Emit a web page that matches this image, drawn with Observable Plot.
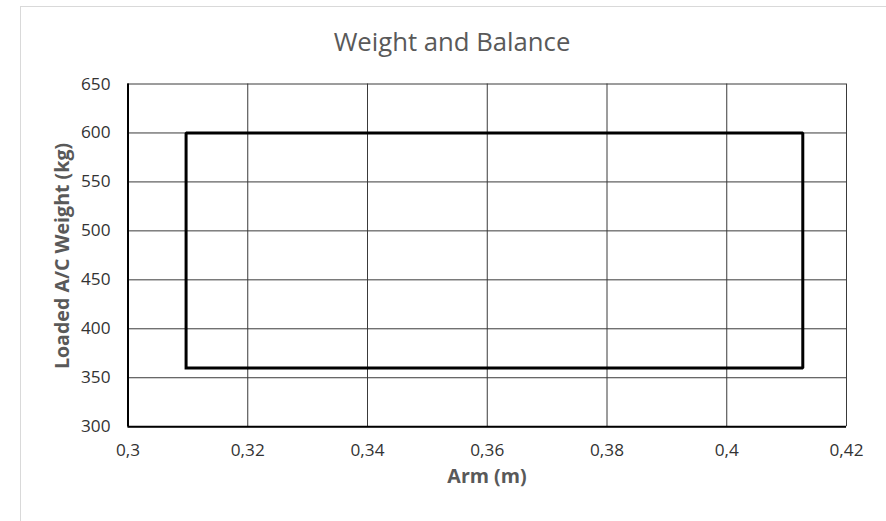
<!DOCTYPE html>
<html>
<head>
<meta charset="utf-8">
<script src="https://cdn.jsdelivr.net/npm/d3@7"></script>
<script src="https://cdn.jsdelivr.net/npm/@observablehq/plot@0.6"></script>
<style>
  html, body { margin: 0; padding: 0; background: #fff; }
  #wrap { position: relative; width: 886px; height: 521px; overflow: hidden; font-family: "Open Sans", sans-serif; }
  #frame { position: absolute; left: 20px; top: 6px; width: 900px; height: 600px; border: 1px solid #d9d9d9; box-sizing: border-box; }
  #chart { position: absolute; left: 0; top: 0; }
  .lbl { position: absolute; white-space: nowrap; line-height: 1; }
  #title { left: 0; width: 904px; text-align: center; top: 29px; font-size: 25.7px; color: #595959; }
  #xlab { left: 0; width: 974px; text-align: center; top: 466px; font-size: 19.6px; font-weight: bold; color: #595959; }
  #ylab { left: 62px; top: 256px; font-size: 19.6px; font-weight: bold; color: #595959; transform: translate(-50%, -50%) rotate(-90deg); }
</style>
</head>
<body>
<div id="wrap">
  <div id="frame"></div>
  <div id="chart"></div>
  <div class="lbl" id="title">Weight and Balance</div>
  <div class="lbl" id="xlab">Arm (m)</div>
  <div class="lbl" id="ylab">Loaded A/C Weight (kg)</div>
</div>
<script>
// Envelope corners (arm in m, weight in kg)
const envelopeArm = [0.3097, 0.3097, 0.4127, 0.4127, 0.3097];
const envelopeWeight = [360, 600, 600, 360, 360];

// Axis ticks and labels
const xTicks = [0.3, 0.32, 0.34, 0.36, 0.38, 0.4, 0.42];
const xTickLabels = ["0,3", "0,32", "0,34", "0,36", "0,38", "0,4", "0,42"];
const yTicks = [300, 350, 400, 450, 500, 550, 600, 650];
const yTickLabels = ["300", "350", "400", "450", "500", "550", "600", "650"];

const envelope = envelopeArm.map((a, i) => ({arm: a, weight: envelopeWeight[i]}));

const chart = Plot.plot({
  width: 886,
  height: 521,
  marginLeft: 127.5,
  marginRight: 40,
  marginTop: 83.5,
  marginBottom: 94.8,
  style: {fontFamily: "Open Sans, sans-serif", background: "transparent"},
  x: {domain: [0.3, 0.42]},
  y: {domain: [300, 650]},
  marks: [
    Plot.gridX(xTicks, {stroke: "#3a3a3a", strokeOpacity: 1, strokeWidth: 1}),
    Plot.gridY(yTicks, {stroke: "#3a3a3a", strokeOpacity: 1, strokeWidth: 1}),
    Plot.axisX(xTicks, {
      tickSize: 0, tickPadding: 17, fontSize: 17.2, fill: "#333",
      tickFormat: (d) => xTickLabels[xTicks.indexOf(d)], label: null
    }),
    Plot.axisY(yTicks, {
      tickSize: 0, tickPadding: 17.5, fontSize: 17.2, fill: "#333",
      tickFormat: (d) => yTickLabels[yTicks.indexOf(d)], label: null
    }),
    Plot.ruleX([0.3], {stroke: "#000", strokeWidth: 2}),
    Plot.ruleY([300], {stroke: "#000", strokeWidth: 2}),
    Plot.line(envelope, {x: "arm", y: "weight", stroke: "#000", strokeWidth: 3, strokeLinejoin: "miter", strokeLinecap: "square"})
  ]
});
document.getElementById("chart").appendChild(chart);
</script>
</body>
</html>
